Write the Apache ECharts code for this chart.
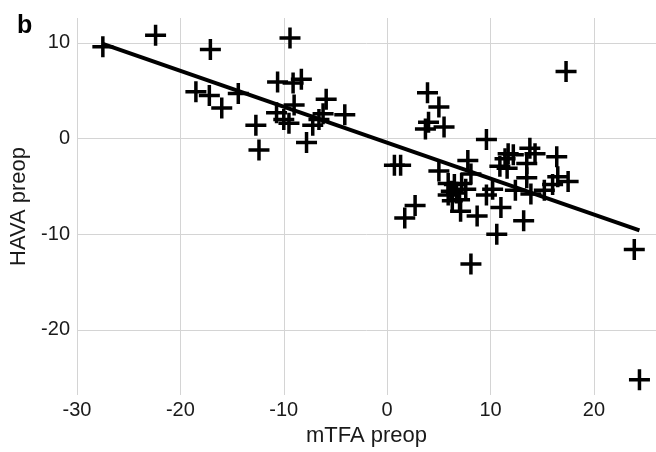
<!DOCTYPE html>
<html>
<head>
<meta charset="utf-8">
<script src="https://cdn.jsdelivr.net/npm/echarts@6/dist/echarts.min.js"></script>
<style>
  html, body { margin: 0; padding: 0; background: #fff; overflow: hidden; }
  #c { width: 656px; height: 452px; }
</style>
</head>
<body>
<div id="c"></div>
<script>
// mTFA preop (x) vs HAVA preop (y)
const mtfa = [
  -27.5, -22.4, -17.1, -18.5, -17.2, -16.0, -14.4, -12.7, -12.4, -9.4,
  -10.6, -9.1, -8.3, -9.0, -10.7, -10.0, -9.5, -7.2, -7.8, -5.9,
  -6.2, -6.6, -4.1,
  17.3, 3.9, 5.0, 4.0, 3.7, 5.5, 9.6, 0.7, 1.3, 2.7,
  1.7, 5.0, 7.8, 8.1, 5.9, 6.5, 7.2, 7.6, 6.2, 6.7,
  5.9, 7.0, 6.3, 7.1, 8.7, 10.6, 8.1, 11.0, 13.2, 9.6,
  10.2, 10.9, 11.4, 11.7, 12.2, 11.6, 13.8, 14.3, 13.5, 16.4,
  13.5, 12.4, 13.9, 15.2, 16.0, 16.5, 17.5, 23.9, 24.4
];
const hava = [
  9.6, 10.8, 9.3, 4.9, 4.5, 3.2, 4.7, 1.4, -1.2, 10.5,
  5.9, 5.8, 6.2, 3.5, 2.7, 2.0, 1.6, 1.4, -0.4, 4.1,
  2.6, 2.0, 2.5,
  7.0, 4.8, 3.3, 1.7, 1.0, 1.2, -0.1, -2.8, -2.8, -7.0,
  -8.3, -3.4, -2.3, -3.7, -4.7, -4.8, -4.7, -5.3, -5.5, -5.7,
  -5.9, -6.4, -6.5, -7.6, -8.1, -10.0, -13.1, -7.2, -8.6, -5.9,
  -5.3, -2.9, -2.1, -1.6, -1.7, -3.1, -1.0, -1.6, -2.6, -1.9,
  -4.1, -5.4, -5.8, -5.4, -4.8, -4.0, -4.5, -11.6, -25.2
];
// fitted line end points
const fitX = [-27.5, 24.4];
const fitY = [9.9, -9.6];
const xTicks = [-30, -20, -10, 0, 10, 20];
const yTicks = [-20, -10, 0, 10];

const PLUS = "path://M7.5,0H10.5V7.5H18V10.5H10.5V18H7.5V10.5H0V7.5H7.5Z";
const FONT = "Liberation Sans";
const GRID = "#d4d4d4";

const chart = echarts.init(document.getElementById("c"), null, { renderer: "canvas" });
chart.setOption({
  animation: false,
  backgroundColor: "#fff",
  textStyle: { fontFamily: FONT },
  title: {
    text: "b", left: 12, top: 9,
    textStyle: { fontFamily: FONT, fontSize: 25, fontWeight: "bold", color: "#000" }
  },
  grid: { left: 77, right: 0, top: 18, bottom: 53 },
  xAxis: {
    type: "value", min: -30, max: 26,
    name: "mTFA preop", nameLocation: "middle", nameGap: 30,
    nameTextStyle: { fontFamily: FONT, fontSize: 22, color: "#1a1a1a" },
    axisLine: { show: false },
    axisTick: { show: true, length: 4, lineStyle: { color: GRID }, customValues: xTicks },
    axisLabel: { fontFamily: FONT, fontSize: 20, color: "#1a1a1a", margin: 5, customValues: xTicks },
    splitLine: { show: true, lineStyle: { color: GRID, width: 1 } }
  },
  yAxis: {
    type: "value", min: -26.8, max: 12.6,
    name: "HAVA preop", nameLocation: "middle", nameGap: 45, nameRotate: 90,
    nameTextStyle: { fontFamily: FONT, fontSize: 22, color: "#1a1a1a" },
    axisLine: { show: false },
    axisTick: { show: true, length: 4, lineStyle: { color: GRID }, customValues: yTicks },
    axisLabel: { fontFamily: FONT, fontSize: 20, color: "#1a1a1a", margin: 7, customValues: yTicks },
    splitLine: { show: true, lineStyle: { color: GRID, width: 1 } }
  },
  series: [
    {
      type: "scatter",
      symbol: PLUS, symbolSize: 21,
      itemStyle: { color: "#000", opacity: 1 },
      data: mtfa.map((x, i) => [x, hava[i]]),
      z: 2
    },
    {
      type: "line",
      data: fitX.map((x, i) => [x, fitY[i]]),
      symbol: "none",
      lineStyle: { color: "#000", width: 4 },
      z: 3
    }
  ]
});
</script>
</body>
</html>
